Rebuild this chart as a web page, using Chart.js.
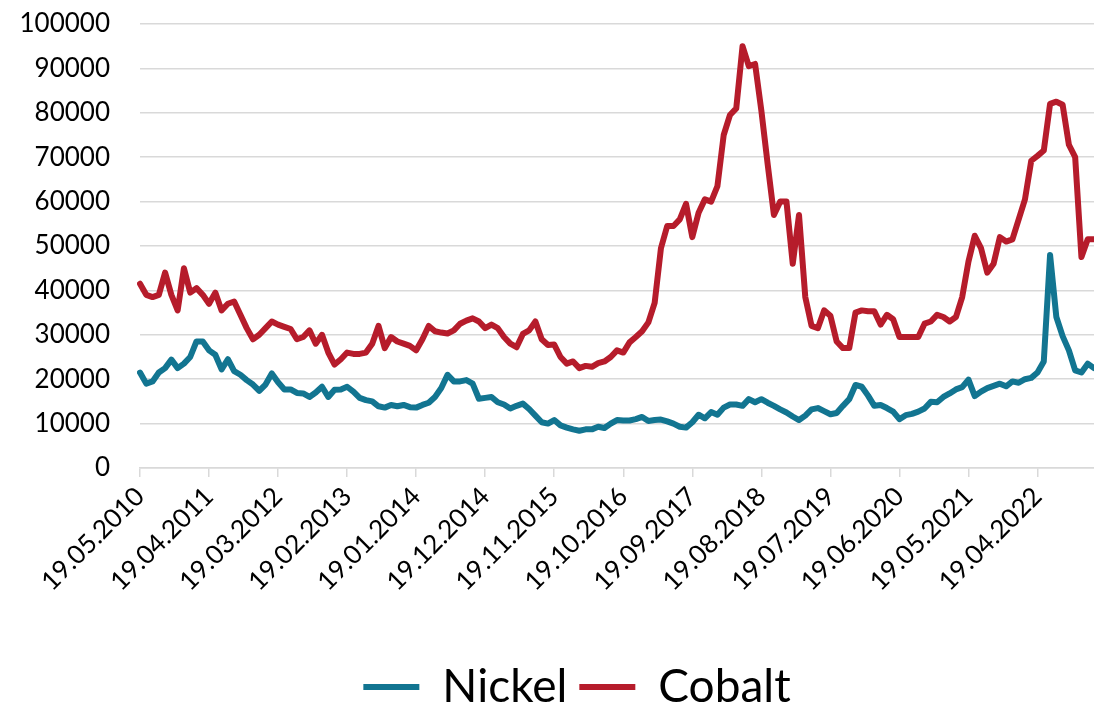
<!DOCTYPE html>
<html>
<head>
<meta charset="utf-8">
<script src="https://cdn.jsdelivr.net/npm/chart.js@4/dist/chart.umd.min.js"></script>
<style>
  html, body { margin: 0; padding: 0; background: #fff; }
  #wrap { width: 1094px; height: 706px; }
</style>
</head>
<body>
<div id="wrap"><canvas id="chart" width="1094" height="706"></canvas></div>
<script>
// one value per month, starting 19.05.2010
const months = [];
for (let i = 0; i < 153; i++) {
  const m = (4 + i) % 12 + 1;
  const y = 2010 + Math.floor((4 + i) / 12);
  months.push('19.' + String(m).padStart(2, '0') + '.' + y);
}

const nickel = [
  21500, 19000, 19500, 21500, 22500, 24400, 22500, 23500, 25000, 28500,
  28500, 26500, 25500, 22200, 24500, 21800, 21000, 19800, 18800, 17400,
  18800, 21300, 19300, 17700, 17700, 16900, 16800, 16000, 17000, 18300,
  16000, 17600, 17700, 18300, 17200, 15800, 15300, 15000, 13900, 13600,
  14200, 13900, 14200, 13700, 13600, 14200, 14700, 16000, 18000, 21000,
  19500, 19500, 19800, 19000, 15600, 15800, 16000, 14800, 14300, 13400,
  14000, 14500, 13300, 11800, 10300, 10000, 10800, 9600, 9100, 8700,
  8400, 8700, 8700, 9300, 9000, 10000, 10800, 10700, 10700, 11000,
  11500, 10600, 10800, 10900, 10500, 10000, 9300, 9100, 10300, 12000,
  11200, 12600, 12000, 13600, 14300, 14300, 14000, 15500, 14800, 15500,
  14700, 14000, 13200, 12500, 11600, 10800, 11800, 13200, 13500, 12800,
  12100, 12400, 14000, 15500, 18700, 18300, 16300, 14000, 14200, 13500,
  12700, 11000, 11900, 12200, 12700, 13400, 14900, 14800, 16000, 16800,
  17700, 18200, 19900, 16200, 17200, 18000, 18500, 19000, 18400, 19500,
  19200, 20000, 20300, 21500, 24000, 48000, 34000, 29700, 26500, 22000,
  21500, 23500, 22500
];

const cobalt = [
  41500, 39000, 38500, 39000, 44000, 39000, 35500, 45000, 39500, 40500,
  39000, 37000, 39500, 35500, 37000, 37500, 34500, 31500, 29000, 30000,
  31500, 33000, 32300, 31800, 31300, 29000, 29500, 31000, 28000, 30000,
  26000, 23300, 24500, 26000, 25700, 25700, 26000, 28000, 32000, 27000,
  29500, 28500, 28000, 27500, 26500, 29000, 32000, 30800, 30500, 30300,
  31000, 32500, 33200, 33700, 33000, 31500, 32300, 31500, 29500, 28000,
  27200, 30200, 31000, 33000, 29000, 27700, 27800, 25000, 23500, 24000,
  22500, 23000, 22800, 23600, 24000, 25000, 26500, 26000, 28300, 29500,
  30800, 32800, 37200, 49500, 54500, 54500, 56000, 59500, 52000, 57500,
  60500, 60000, 63500, 75000, 79500, 81000, 95000, 90500, 91000, 80500,
  68500, 57000, 60000, 60000, 46000, 57000, 38500, 32000, 31500, 35500,
  34300, 28500, 27000, 27000, 35000, 35500, 35300, 35300, 32300, 34500,
  33500, 29500, 29500, 29500, 29500, 32500, 33000, 34500, 34000, 33000,
  34000, 38500, 46500, 52300, 49500, 44000, 46000, 52000, 51000, 51500,
  56000, 60500, 69200, 70300, 71500, 82000, 82500, 81800, 72800, 70000,
  47500, 51500, 51500
];

const yTicks = { min: 0, max: 100000, step: 10000 };
const labelEvery = 11;

const fontName = 'Lato, "Liberation Sans", sans-serif';
const gridColor = '#d9d9d9';

// nudge the legend to where it sits in the original (a bit right and lower)
const legendShift = {
  id: 'legendShift',
  afterLayout(chart) {
    chart.legend.left += 60;
    chart.legend.top += 14;
  },
};

const ctx = document.getElementById('chart').getContext('2d');
new Chart(ctx, {
  type: 'line',
  data: {
    labels: months,
    datasets: [
      {
        label: 'Nickel',
        data: nickel,
        borderColor: '#127591',
        backgroundColor: '#127591',
      },
      {
        label: 'Cobalt',
        data: cobalt,
        borderColor: '#b61c2b',
        backgroundColor: '#b61c2b',
      },
    ],
  },
  plugins: [legendShift],
  options: {
    responsive: false,
    animation: false,
    layout: { padding: 0 },
    elements: {
      point: { radius: 0 },
      line: { borderWidth: 6, tension: 0, borderJoinStyle: 'round', borderCapStyle: 'round' },
    },
    plugins: {
      tooltip: { enabled: false },
      legend: {
        position: 'bottom',
        labels: {
          font: { family: fontName, size: 46 },
          color: '#000',
          boxWidth: 56,
          boxHeight: 6,
          padding: 12,
          generateLabels: (chart) =>
            Chart.defaults.plugins.legend.labels.generateLabels(chart).map(item => ({ ...item, lineWidth: 0 })),
        },
      },
    },
    scales: {
      x: {
        afterBuildTicks: (scale) => {
          scale.ticks = scale.ticks.filter(t => t.value % labelEvery === 0);
        },
        afterFit: (scale) => {
          scale.height = 170;
          scale.paddingLeft = 0;
          scale.paddingRight = 0;
        },
        ticks: {
          autoSkip: false,
          minRotation: 45,
          maxRotation: 45,
          color: '#000',
          font: { family: fontName, size: 26 },
          padding: 4,
        },
        grid: {
          display: true,
          drawOnChartArea: false,
          drawTicks: true,
          tickLength: 9,
          color: gridColor,
          lineWidth: 1.5,
        },
        border: { display: true, color: gridColor, width: 1.5 },
      },
      y: {
        min: yTicks.min,
        max: yTicks.max,
        afterFit: (scale) => {
          scale.width = 140;
          scale.paddingTop = 24;
        },
        ticks: {
          stepSize: yTicks.step,
          color: '#000',
          font: { family: fontName, size: 26 },
          padding: 30,
          callback: (value) => String(value),
        },
        grid: { color: gridColor, lineWidth: 1.5, drawTicks: false },
        border: { display: false },
      },
    },
  },
});
</script>
</body>
</html>
